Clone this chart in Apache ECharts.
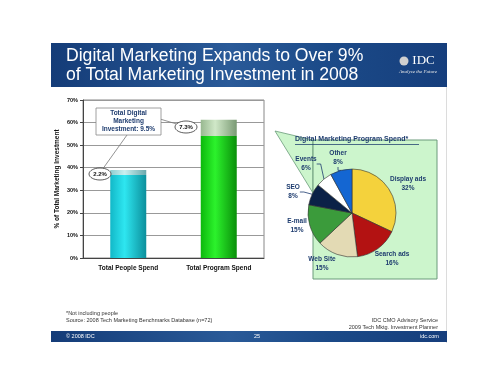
<!DOCTYPE html>
<html><head><meta charset="utf-8">
<script src="https://cdn.jsdelivr.net/npm/echarts@6/dist/echarts.min.js"></script>
<style>html,body{margin:0;padding:0;background:#fff}#c{width:500px;height:387px}</style>
</head><body><div id="c"></div>
<script>
var categories = ['Total People Spend', 'Total Program Spend'];
var baseValues = [36.8, 54.0];
var digitalValues = [2.2, 7.3];
var yTicks = [0, 10, 20, 30, 40, 50, 60, 70];
var pieNames = ['Display ads', 'Search ads', 'Web Site', 'E-mail', 'SEO', 'Events', 'Other'];
var pieValues = [32, 16, 15, 15, 8, 6, 8];
var pieColors = ['#f4d23c', '#b31212', '#e3dab4', '#3b9b3b', '#0b2147', '#ffffff', '#1466d2'];

var chart = echarts.init(document.getElementById('c'), null, {renderer: 'canvas'});
var F = 'Liberation Sans, Arial, sans-serif';
var labelPos = [[408,184],[392,259],[322,264],[297,226],[293,192],[306,164],[338,158]];
var bandGrad = new echarts.graphic.LinearGradient(0,0,1,0,[{offset:0,color:'#143c78'},{offset:0.45,color:'#2a5a98'},{offset:0.7,color:'#1b4a88'},{offset:1,color:'#163e7c'}]);

chart.setOption({
  animation: false,
  grid: {left: 83, right: 236, top: 100, bottom: 129, show: true, borderColor: '#888', borderWidth: 1, backgroundColor: 'transparent'},
  xAxis: {type: 'category', data: categories, axisTick: {show: false},
    axisLine: {lineStyle: {color: '#444'}},
    axisLabel: {fontFamily: F, fontSize: 6.5, fontWeight: 'bold', color: '#111', margin: 7}},
  yAxis: {type: 'value', min: 0, max: 70, interval: 10,
    name: '% of Total Marketing Investment', nameLocation: 'middle', nameGap: 22, nameRotate: 90,
    nameTextStyle: {fontFamily: F, fontSize: 6.5, fontWeight: 'bold', color: '#111'},
    axisLine: {show: true, lineStyle: {color: '#444'}}, axisTick: {show: true, length: 3, lineStyle:{color:'#444'}},
    splitLine: {lineStyle: {color: '#999'}},
    axisLabel: {fontFamily: F, fontSize: 5.5, fontWeight: 'bold', color: '#111', margin: 5,
      formatter: function(v){ return yTicks.indexOf(v) >= 0 ? v + '%' : ''; }}},
  series: [
    {type: 'bar', stack: 's', barWidth: 36, data: baseValues.map(function(v,i){
      return {value: v, itemStyle: {color: new echarts.graphic.LinearGradient(0,0,1,0, i===0 ?
        [{offset:0,color:'#12b8c8'},{offset:0.4,color:'#2ee6f0'},{offset:1,color:'#0c8f9c'}] :
        [{offset:0,color:'#0cb80c'},{offset:0.4,color:'#2cf22c'},{offset:1,color:'#0a8f0a'}])}};
    })},
    {type: 'bar', stack: 's', barWidth: 36, data: digitalValues.map(function(v,i){
      return {value: v, itemStyle: {color: new echarts.graphic.LinearGradient(0,0,1,0, i===0 ?
        [{offset:0,color:'#8ccdd0'},{offset:0.4,color:'#c8f0f0'},{offset:1,color:'#6aa8ac'}] :
        [{offset:0,color:'#98b890'},{offset:0.4,color:'#d0e8c8'},{offset:1,color:'#7a9a74'}])}};
    })},
    {type: 'pie', center: [352, 213], radius: 44, startAngle: 90, clockwise: true, z: 5,
      data: pieNames.map(function(n,i){ return {name: n, value: pieValues[i],
        itemStyle: {color: pieColors[i], borderColor: '#333', borderWidth: 0.6},
        labelLine: {show: i >= 4}}; }),
      label: {show: true, formatter: '{b}\n{c}%', fontFamily: F, fontSize: 6.5, fontWeight: 'bold', color: '#1d3b6e', align: 'center', lineHeight: 9},
      labelLine: {lineStyle: {color: '#1d3b6e', width: 0.8}, length: 4, length2: 4},
      labelLayout: function(p){ var q = labelPos[p.dataIndex]; return {x: q[0], y: q[1], align: 'center', verticalAlign: 'middle'}; },
      emphasis: {disabled: true}}
  ],
  graphic: [
    {type: 'rect', shape: {x: 446, y: 43, width: 1, height: 300}, style: {fill: '#dcdcdc'}, z: -10},
    {type: 'rect', shape: {x: 51, y: 43, width: 396, height: 44}, style: {fill: bandGrad}, z: -5},
    {type: 'text', left: 66, top: 47, style: {text: 'Digital Marketing Expands to Over 9%\nof Total Marketing Investment in 2008', fill: '#fff', font: '17.6px ' + F, lineHeight: 18.5}},
    {type: 'circle', shape: {cx: 404, cy: 61, r: 4.5}, style: {fill: '#d0d0d0'}},
    {type: 'text', x: 423.5, y: 61, style: {text: 'IDC', fill: '#fff', font: '13px Liberation Serif, serif', align: 'center', verticalAlign: 'middle'}},
    {type: 'text', x: 418, y: 72, style: {text: 'Analyze the Future', fill: '#e8e8e8', font: 'italic 5px Liberation Serif, serif', align: 'center', verticalAlign: 'middle'}},
    {type: 'rect', shape: {x: 51, y: 331, width: 396, height: 11}, style: {fill: bandGrad}, z: -5},
    {type: 'text', left: 66, top: 333, style: {text: '© 2008 IDC', fill: '#fff', font: '5.5px ' + F}},
    {type: 'text', left: 254, top: 333, style: {text: '25', fill: '#fff', font: '5.5px ' + F}},
    {type: 'text', left: 420, top: 333, style: {text: 'idc.com', fill: '#fff', font: '5.5px ' + F}},
    {type: 'text', left: 66, top: 310, style: {text: '*Not including people\nSource: 2008 Tech Marketing Benchmarks Database (n=72)', fill: '#333', font: '5.5px ' + F, lineHeight: 7}},
    {type: 'text', x: 438, y: 317, style: {text: 'IDC CMO Advisory Service\n2009 Tech Mktg. Investment Planner', fill: '#333', font: '5.5px ' + F, lineHeight: 7, align: 'right'}},
    {type: 'polygon', shape: {points: [[275,131],[313,140],[313,193]]}, style: {fill: '#ccf5cc', stroke: '#6a9a7a', lineWidth: 0.8}, z: 1},
    {type: 'rect', shape: {x: 313, y: 140, width: 124, height: 139}, style: {fill: '#ccf5cc', stroke: '#6a9a7a', lineWidth: 1}, z: 1},
    {type: 'text', left: 295, top: 136, style: {text: 'Digital Marketing Program Spend*', fill: '#1d3b6e', font: 'bold 7px ' + F}, z: 3},
    {type: 'rect', shape: {x: 295, y: 144, width: 124, height: 0.8}, style: {fill: '#1d3b6e'}, z: 3},
    {type: 'line', shape: {x1: 127, y1: 135, x2: 102, y2: 170}, style: {stroke: '#777', lineWidth: 0.8}, z: 3},
    {type: 'line', shape: {x1: 160, y1: 119, x2: 180, y2: 125}, style: {stroke: '#777', lineWidth: 0.8}, z: 3},
    {type: 'rect', shape: {x: 96, y: 108, width: 65, height: 27}, style: {fill: '#fff', stroke: '#888', lineWidth: 0.8}, z: 4},
    {type: 'text', x: 128.5, y: 121.5, style: {text: 'Total Digital\nMarketing\nInvestment: 9.5%', fill: '#1d3b6e', font: 'bold 6.5px ' + F, lineHeight: 8, align: 'center', verticalAlign: 'middle'}, z: 5},
    {type: 'ellipse', shape: {cx: 100, cy: 174, rx: 11, ry: 6}, style: {fill: '#fff', stroke: '#333', lineWidth: 0.8}, z: 4},
    {type: 'text', x: 100, y: 174, style: {text: digitalValues[0] + '%', fill: '#111', font: 'bold 6px ' + F, align: 'center', verticalAlign: 'middle'}, z: 5},
    {type: 'ellipse', shape: {cx: 186, cy: 127, rx: 11, ry: 6}, style: {fill: '#fff', stroke: '#333', lineWidth: 0.8}, z: 4},
    {type: 'text', x: 186, y: 127, style: {text: digitalValues[1] + '%', fill: '#111', font: 'bold 6px ' + F, align: 'center', verticalAlign: 'middle'}, z: 5}
  ]
});
</script></body></html>
